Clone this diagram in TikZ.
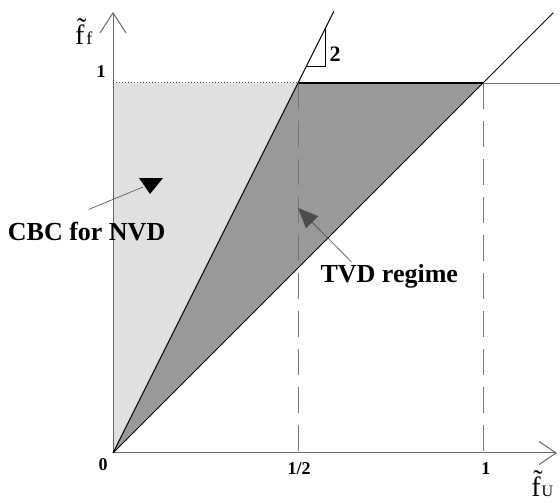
\documentclass[tikz,border=0pt]{standalone}
\usepackage{fontspec}
\setmainfont{Liberation Serif}
\usetikzlibrary{arrows.meta}
\begin{document}
\begin{tikzpicture}[x=370pt, y=370pt,
		ax/.style  = {draw=black!60, line width=1pt},
		lbl/.style = {font=\fontsize{26}{30}\selectfont\bfseries, inner sep=2pt},
		tck/.style = {font=\fontsize{18}{20}\selectfont\bfseries, inner sep=0pt},
		dsh/.style = {draw=black!55, line width=1pt, dash pattern=on 26pt off 12pt},
		ptr/.style = {draw=black!70, line width=0.6pt}
		]
		\useasboundingbox (-0.3054,-0.1351) rectangle (1.2081,1.2243);
		
		\coordinate (O)	at (0,0);
		\coordinate (Y1)	at (0,1);
		\coordinate (A)	at (0.5,1);
		\coordinate (B)	at (1,1);
		
		% shaded regions
		\fill[black!12]	(O) -- (Y1) -- (A) -- cycle;
		\fill[black!40]	(O) -- (A) -- (B) -- cycle;
		
		% axes
		\draw[ax, -{Straight Barb[length=20pt,width=26pt]}]	(O) -- (0,1.192);
		\draw[ax, -{Straight Barb[length=17pt,width=23pt]}]	(O) -- (1.2,0);
		
		% level f=1
		\draw[black!70, dotted, line width=1pt]	(Y1) -- (A);
		\draw[line width=1.6pt]	(A) -- (B);
		\draw[black!55, line width=0.8pt]	(B) -- (1.21,1);
		\draw[dsh]	(A) -- (0.5,0);
		\draw[dsh]	(B) -- (1,0);
		
		% limiting lines
		\draw[line width=0.9pt]	(O) -- (0.597,1.194);
		\draw[line width=0.9pt]	(O) -- (1.19,1.19);
		
		% slope
		\draw[line width=0.8pt]	(0.5225,1.045) -- (0.575,1.045) -- (0.575,1.15);
		\node[font=\fontsize{22}{22}\selectfont\bfseries] (two) at (0.6,1.077) {2};
		
		% ticks
		\node[tck]	(t1y)	at (-0.032,1.032)	{1};
		\node[tck]	(t0)	at (-0.027,-0.032)	{0};
		\node[tck]	(thalf)	at (0.503,-0.043)	{1/2};
		\node[tck]	(t1x)	at (1.008,-0.043)	{1};
		
		% axis labels
		\node[anchor=base west, inner sep=0pt]	(fy)	at (-0.103,1.103)
			{\fontsize{28}{28}\selectfont\~{f}\kern2pt\fontsize{18}{18}\selectfont f};
		\node[anchor=base west, inner sep=0pt]	(fx)	at (1.13,-0.118)
			{\fontsize{28}{28}\selectfont\~{f}\kern1pt\fontsize{16}{16}\selectfont U};
		
		% regions
		\node[lbl, anchor=base west]	(cbc)	at (-0.29,0.573)	{CBC for NVD};
		\node[lbl, anchor=base west]	(tvd)	at (0.555,0.462)	{TVD regime};
		
		\coordinate (cbctip)	at (0.0811,0.7189);
		\draw[ptr]	([shift={(2pt,11pt)}]cbc.north) -- (cbctip);
		\fill	(0.0703,0.7432) -- (0.1351,0.7432) -- (0.1,0.7) -- cycle;
		
		\coordinate (tvdtip)	at (0.5,0.6622);
		\draw[ptr, -{Triangle[length=20pt,width=17pt]}]	([xshift=33pt]tvd.north west) -- (tvdtip);
\end{tikzpicture}
\end{document}
